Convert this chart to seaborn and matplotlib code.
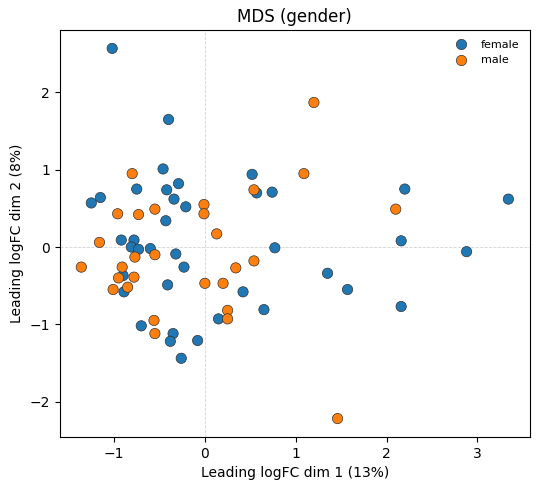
import pandas as pd
import matplotlib
matplotlib.use("Agg")
import matplotlib.pyplot as plt
import seaborn as sns

# MDS coordinates
female_x = [-1.02, -0.40, -0.46, -0.29, -0.75, -0.42, -1.15, -1.25, -0.34, -0.21,
            -0.43, 0.52, 0.57, 0.74, -0.92, -0.78, -0.81, -0.73, -0.60, -0.32,
            -0.23, -0.90, -0.89, -0.41, 0.42, 0.65, 0.15, -0.70, -0.35, -0.38,
            -0.08, -0.26, 0.77, 2.20, 3.34, 2.16, 2.88, 1.35, 1.57, 2.16]
female_y = [2.57, 1.65, 1.01, 0.82, 0.75, 0.74, 0.64, 0.57, 0.62, 0.52,
            0.34, 0.94, 0.70, 0.71, 0.09, 0.09, 0.00, -0.03, -0.02, -0.09,
            -0.26, -0.37, -0.58, -0.49, -0.58, -0.81, -0.93, -1.02, -1.12, -1.22,
            -1.21, -1.44, -0.01, 0.75, 0.62, 0.08, -0.06, -0.34, -0.55, -0.77]

male_x = [-0.80, 0.54, -0.96, -0.73, -0.55, -0.01, -0.01, 0.13, -1.16, -0.55,
          -0.77, -1.36, -0.91, -0.78, -0.95, -0.85, -1.01, 0.00, 0.20, 0.34,
          0.54, 0.25, 0.25, -0.56, -0.55, 1.20, 1.09, 2.10, 1.46]
male_y = [0.95, 0.74, 0.43, 0.42, 0.49, 0.55, 0.43, 0.17, 0.06, -0.10,
          -0.13, -0.26, -0.26, -0.39, -0.40, -0.52, -0.55, -0.47, -0.47, -0.27,
          -0.18, -0.82, -0.93, -0.95, -1.12, 1.87, 0.95, 0.49, -2.22]

df = pd.DataFrame({
    "dim1": female_x + male_x,
    "dim2": female_y + male_y,
    "gender": ["female"] * len(female_x) + ["male"] * len(male_x),
})

fig, ax = plt.subplots(figsize=(5.4, 4.9), dpi=100)
fig.subplots_adjust(left=0.111, right=0.981, top=0.939, bottom=0.108)

ax.axhline(0, color="lightgray", linestyle="--", linewidth=0.6, zorder=0)
ax.axvline(0, color="lightgray", linestyle="--", linewidth=0.6, zorder=0)

sns.scatterplot(data=df, x="dim1", y="dim2", hue="gender",
                hue_order=["female", "male"], palette=["#1f77b4", "#ff7f0e"],
                s=55, edgecolor="#333333", linewidth=0.5, ax=ax)

ax.set_title("MDS (gender)")
ax.set_xlabel("Leading logFC dim 1 (13%)")
ax.set_ylabel("Leading logFC dim 2 (8%)")
ax.legend(loc="upper right", frameon=False, fontsize=8, title=None)

fig.savefig("out.png", dpi=100)
